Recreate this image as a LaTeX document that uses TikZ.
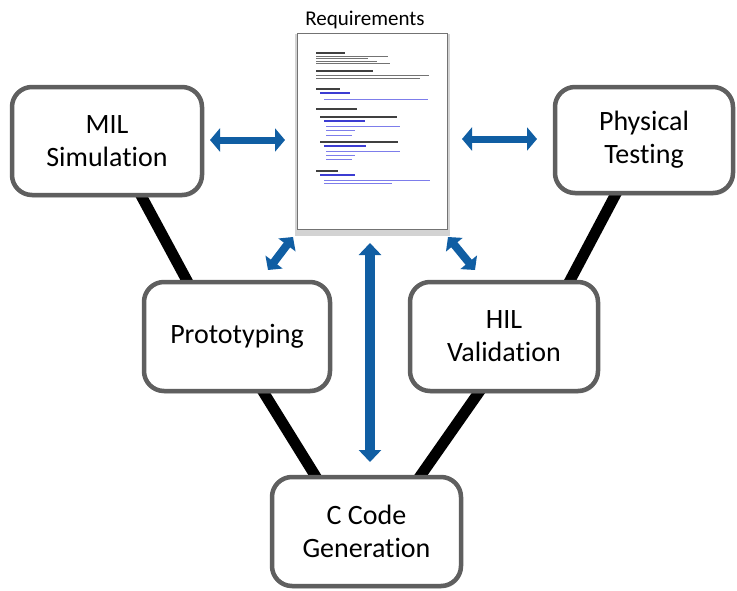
\documentclass[tikz,border=0pt]{standalone}
\usepackage{fontspec}
\setmainfont[Ligatures=NoCommon]{Carlito}
\usetikzlibrary{arrows.meta,shadows}
\definecolor{boxgray}{RGB}{95,95,95}
\definecolor{arrowblue}{RGB}{16,94,163}
\definecolor{reqblue}{RGB}{60,60,210}
\definecolor{reqlight}{RGB}{125,125,235}
\pgfdeclarelayer{bg}
\pgfsetlayers{bg,main}
\begin{document}
\begin{tikzpicture}[x=1pt,y=-1pt,
  stage/.style={draw=boxgray, line width=4.5pt, rounded corners=20pt, fill=white,
    align=center, font=\fontsize{28}{33}\selectfont, inner sep=0pt,
    drop shadow={shadow xshift=1pt, shadow yshift=-2.5pt, opacity=0.25}},
  docpage/.style={draw=black!55, line width=1.3pt, fill=white, inner sep=0pt,
    minimum width=150pt, minimum height=196pt,
    drop shadow={shadow xshift=0pt, shadow yshift=-3pt, opacity=0.35, shadow scale=1.03}},
  vline/.style={line width=11pt, black},
  harrow/.style={arrowblue, line width=7pt, {Triangle[width=23pt,length=10pt]}-{Triangle[width=23pt,length=10pt]}},
  darrow/.style={arrowblue, line width=8pt, {Triangle[width=21pt,length=10pt]}-{Triangle[width=21pt,length=10pt]}},
  varrow/.style={arrowblue, line width=10pt, {Triangle[width=22pt,length=12pt]}-{Triangle[width=22pt,length=12pt]}},
  dhead/.style={black!75, line width=1.3pt},
  dbig/.style={black!75, line width=1.8pt},
  dtext/.style={black!55, line width=0.7pt},
  dreq/.style={reqblue, line width=1.3pt},
  dblue/.style={reqlight, line width=0.8pt}]
\useasboundingbox (0,0) rectangle (737,590);

% stages
\node[stage, minimum width=190pt, minimum height=108pt] (mil) at (107,141) {MIL\\Simulation};
\node[stage, minimum width=178pt, minimum height=106pt] (phys) at (644,140) {Physical\\Testing};
\node[stage, minimum width=186pt, minimum height=109pt] (proto) at (237,336.5) {Prototyping};
\node[stage, minimum width=188pt, minimum height=109pt] (hil) at (504,336.5) {HIL\\Validation};
\node[stage, minimum width=189pt, minimum height=109pt] (ccode) at (366.5,531.5) {C Code\\Generation};

% requirements document
\node[font=\fontsize{21}{24}\selectfont] (reqlabel) at (365,20) {Requirements};
\node[docpage] (doc) at (372.5,131.5) {};
\foreach \y/\a/\b/\st in {
  53/316/345/dhead, 56/316/388/dtext, 58.5/316/368/dtext, 61/316/377/dtext, 63.5/316/390/dtext,
  71/316/373/dbig, 75/316/429/dtext, 78/316/420/dtext,
  89/316/340/dhead, 93/320/350/dreq, 99/324/428/dblue,
  109/316/357/dhead, 117/320/397/dhead, 121/324/365/dreq,
  126/326/400/dblue, 130/326/355/dblue, 135/326/352/dblue,
  142/320/398/dhead, 146/324/366/dreq,
  151/326/400/dblue, 155/326/355/dblue, 159/326/352/dblue,
  171/316/338/dhead, 175/320/355/dreq, 180/324/430/dblue, 183/324/392/dblue}
  \draw[\st] (\a,\y) -- (\b,\y);

% black V connectors (behind the boxes)
\coordinate (l1a) at (137,188); \coordinate (l1b) at (192,290);
\coordinate (l2a) at (259,385); \coordinate (l2b) at (321,485);
\coordinate (r1a) at (619,188); \coordinate (r1b) at (565,290);
\coordinate (r2a) at (484,385); \coordinate (r2b) at (414,485);
\begin{pgfonlayer}{bg}
  \draw[vline] (l1a) -- (l1b);
  \draw[vline] (l2a) -- (l2b);
  \draw[vline] (r1a) -- (r1b);
  \draw[vline] (r2a) -- (r2b);
\end{pgfonlayer}

% blue double arrows
\coordinate (h1a) at (210,140); \coordinate (h1b) at (285,140);
\coordinate (h2a) at (462,139); \coordinate (h2b) at (537,139);
\coordinate (d1a) at (293,237); \coordinate (d1b) at (268,270);
\coordinate (d2a) at (448,237); \coordinate (d2b) at (475,270);
\coordinate (va) at (370,243); \coordinate (vb) at (370,462);
\draw[harrow] (h1a) -- (h1b);
\draw[harrow] (h2a) -- (h2b);
\draw[darrow] (d1a) -- (d1b);
\draw[darrow] (d2a) -- (d2b);
\draw[varrow] (va) -- (vb);
\end{tikzpicture}
\end{document}
